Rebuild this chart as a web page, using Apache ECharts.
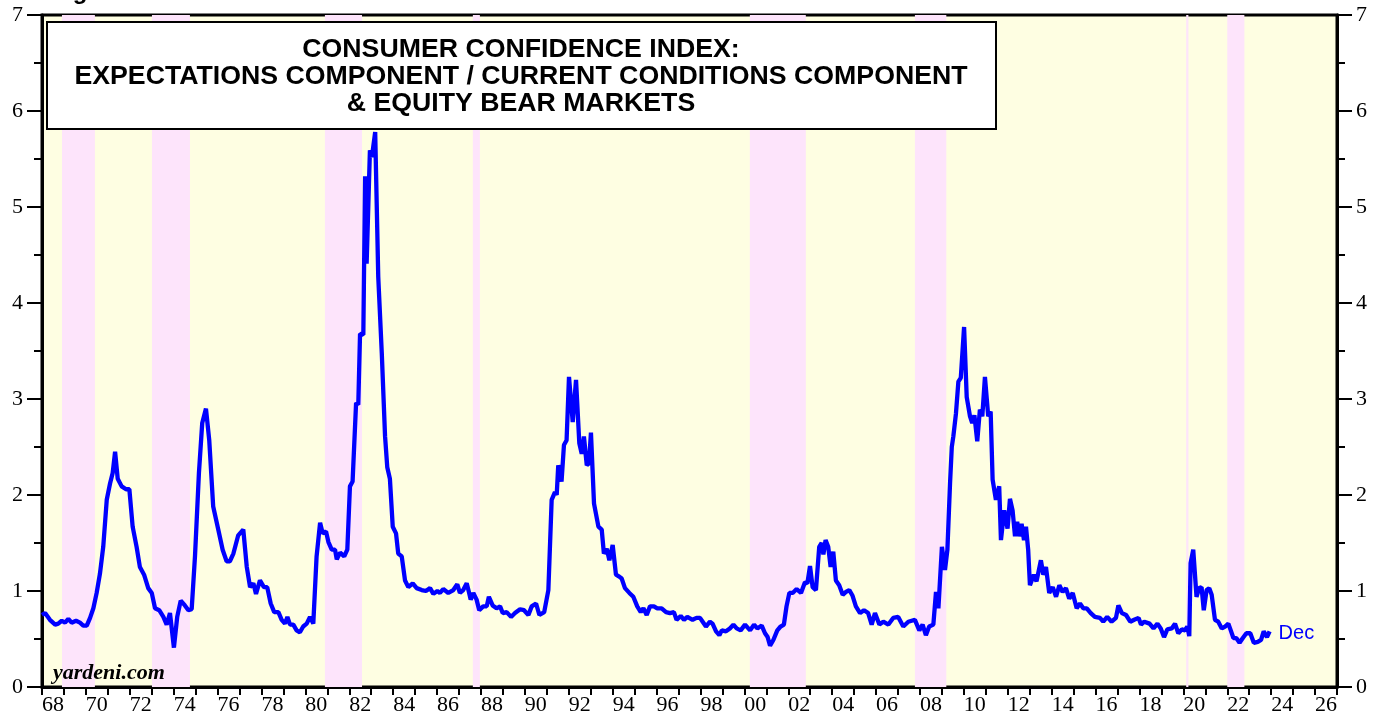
<!DOCTYPE html>
<html><head><meta charset="utf-8">
<script src="https://cdn.jsdelivr.net/npm/echarts/dist/echarts.min.js"></script>
<style>html,body{margin:0;padding:0;background:#fff}#c{width:1384px;height:721px}</style>
</head><body><div id="c"></div>
<script>
// Decimal year of each reading (monthly series, traced)
const years = [
1968.00,1968.14,1968.36,1968.60,1968.74,1968.90,1969.05,1969.20,1969.35,1969.55,1969.73,1969.88,
1970.04,1970.19,1970.34,1970.49,1970.64,1970.79,1970.95,1971.10,1971.22,1971.33,1971.45,1971.63,1971.83,1971.98,
1972.13,1972.31,1972.46,1972.65,1972.84,1973.00,1973.15,1973.34,1973.53,1973.68,1973.83,1974.01,1974.16,1974.32,1974.51,1974.67,1974.82,
1974.97,1975.15,1975.30,1975.47,1975.62,1975.80,1976.03,1976.23,1976.41,1976.56,1976.72,1976.94,1977.17,1977.33,1977.48,1977.63,1977.75,1977.93,
1978.11,1978.26,1978.42,1978.58,1978.77,1978.92,1979.07,1979.18,1979.30,1979.45,1979.60,1979.75,1979.90,
1980.06,1980.21,1980.36,1980.51,1980.67,1980.79,1980.94,1981.05,1981.20,1981.35,1981.43,1981.58,1981.77,1981.91,
1982.03,1982.15,1982.23,1982.31,1982.41,1982.49,1982.64,1982.72,1982.79,1982.87,1982.94,1983.03,1983.18,1983.32,1983.48,1983.63,1983.73,1983.85,1983.98,
1984.13,1984.23,1984.39,1984.54,1984.69,1984.89,1985.07,1985.30,1985.49,1985.68,1985.83,1986.01,1986.13,1986.28,1986.51,1986.74,1986.92,
1987.04,1987.19,1987.35,1987.45,1987.53,1987.65,1987.80,1987.92,1988.10,1988.26,1988.36,1988.53,1988.71,1988.87,1988.99,
1989.17,1989.37,1989.55,1989.78,1989.96,1990.16,1990.31,1990.51,1990.66,1990.88,
1991.07,1991.22,1991.37,1991.45,1991.52,1991.67,1991.78,1991.90,1992.01,1992.18,1992.33,1992.48,1992.59,1992.69,1992.82,1992.92,
1993.01,1993.15,1993.35,1993.50,1993.60,1993.73,1993.85,1994.00,1994.15,1994.30,1994.41,1994.56,1994.76,1994.94,
1995.12,1995.28,1995.40,1995.55,1995.70,1995.88,1996.03,1996.23,1996.43,1996.61,1996.79,1996.91,
1997.10,1997.25,1997.40,1997.64,1997.82,1997.98,1998.10,1998.25,1998.43,1998.55,1998.71,1998.86,1998.97,
1999.16,1999.34,1999.50,1999.65,1999.83,2000.03,2000.26,2000.44,2000.59,2000.79,2000.94,
2001.06,2001.17,2001.32,2001.50,2001.65,2001.80,2001.92,2002.05,2002.20,2002.38,2002.58,2002.76,2002.87,2002.99,
2003.11,2003.26,2003.41,2003.52,2003.60,2003.70,2003.82,2003.93,2004.05,2004.17,2004.32,2004.48,2004.63,2004.78,2004.93,
2005.08,2005.27,2005.45,2005.64,2005.80,2005.95,2006.15,2006.33,2006.56,2006.78,2007.01,2007.24,2007.47,2007.77,2007.97,
2008.12,2008.27,2008.42,2008.61,2008.73,2008.84,2009.00,2009.14,2009.25,2009.37,2009.45,2009.52,2009.64,2009.75,2009.86,
2010.01,2010.13,2010.28,2010.38,2010.48,2010.61,2010.73,2010.84,2010.96,2011.11,2011.22,2011.31,2011.46,2011.61,2011.69,2011.84,2011.99,
2012.10,2012.22,2012.33,2012.43,2012.52,2012.63,2012.74,2012.83,2012.93,2013.01,2013.19,2013.31,2013.51,2013.62,2013.74,2013.89,
2014.05,2014.20,2014.35,2014.50,2014.65,2014.80,2014.96,2015.14,2015.29,2015.44,2015.60,2015.78,2015.97,
2016.20,2016.35,2016.53,2016.73,2016.93,2017.04,2017.20,2017.39,2017.58,2017.76,2017.96,
2018.07,2018.22,2018.46,2018.64,2018.82,2018.97,2019.12,2019.27,2019.47,2019.62,2019.77,2019.93,
2020.08,2020.18,2020.27,2020.33,2020.45,2020.60,2020.72,2020.83,2020.93,2021.06,2021.18,2021.29,2021.44,2021.59,2021.75,2021.90,
2022.05,2022.16,2022.28,2022.41,2022.56,2022.71,2022.87,2023.05,2023.21,2023.39,2023.54,2023.66,2023.81,2023.93
];
// Expectations / Current Conditions ratio at those dates
const ratio = [
0.75,0.77,0.70,0.65,0.66,0.69,0.67,0.71,0.67,0.69,0.67,0.64,
0.64,0.72,0.82,0.98,1.18,1.46,1.95,2.12,2.23,2.45,2.17,2.09,2.06,2.06,
1.67,1.46,1.25,1.17,1.03,0.98,0.82,0.80,0.73,0.65,0.77,0.41,0.73,0.90,0.85,0.80,0.81,
1.36,2.23,2.75,2.90,2.57,1.88,1.64,1.43,1.31,1.31,1.39,1.58,1.64,1.25,1.04,1.08,0.97,1.11,
1.04,1.04,0.87,0.78,0.78,0.70,0.66,0.73,0.65,0.65,0.59,0.57,0.63,
0.66,0.73,0.66,1.36,1.71,1.60,1.62,1.51,1.43,1.43,1.33,1.40,1.36,1.43,
2.09,2.14,2.12,2.96,2.94,3.68,3.67,5.32,4.41,4.41,5.59,5.52,5.78,4.27,3.48,2.61,2.29,2.17,1.67,
1.60,1.39,1.36,1.11,1.04,1.08,1.03,1.01,1.00,1.03,0.97,1.00,0.98,1.02,0.98,1.01,1.07,
0.98,1.01,1.08,0.99,0.91,0.98,0.91,0.80,0.84,0.84,0.94,0.85,0.82,0.84,0.77,
0.78,0.73,0.77,0.81,0.80,0.75,0.84,0.87,0.75,0.78,
1.01,1.95,2.03,2.00,2.31,2.14,2.52,2.57,3.23,2.76,3.20,2.54,2.43,2.61,2.31,2.33,
2.65,1.91,1.67,1.64,1.39,1.44,1.32,1.48,1.17,1.15,1.13,1.03,0.98,0.94,
0.84,0.78,0.82,0.75,0.84,0.84,0.82,0.82,0.78,0.77,0.78,0.70,
0.74,0.70,0.73,0.70,0.72,0.72,0.68,0.63,0.68,0.66,0.58,0.54,0.59,
0.58,0.61,0.65,0.61,0.59,0.65,0.59,0.65,0.61,0.64,0.56,
0.52,0.43,0.49,0.59,0.63,0.65,0.84,0.98,0.98,1.02,0.98,1.09,1.08,1.26,
1.04,1.01,1.46,1.50,1.38,1.53,1.46,1.25,1.41,1.11,1.06,0.96,0.99,1.01,0.95,
0.84,0.77,0.80,0.77,0.65,0.77,0.65,0.68,0.65,0.72,0.73,0.63,0.68,0.70,0.59,
0.65,0.54,0.63,0.65,0.99,0.82,1.46,1.22,1.43,2.12,2.50,2.61,2.85,3.18,3.22,
3.75,3.02,2.82,2.75,2.83,2.56,2.89,2.82,3.23,2.82,2.87,2.16,1.95,2.09,1.53,1.84,1.65,
1.96,1.84,1.57,1.72,1.57,1.70,1.53,1.67,1.43,1.06,1.17,1.10,1.32,1.17,1.25,0.98,
1.04,0.94,1.06,0.99,1.03,0.92,0.98,0.82,0.87,0.82,0.82,0.77,0.73,
0.72,0.68,0.73,0.68,0.72,0.85,0.77,0.75,0.68,0.70,0.72,
0.65,0.68,0.66,0.61,0.66,0.61,0.52,0.60,0.61,0.66,0.56,0.60,
0.59,0.63,0.53,1.29,1.43,0.94,1.03,1.04,0.80,1.01,1.03,0.96,0.70,0.68,0.61,0.63,
0.66,0.59,0.51,0.51,0.46,0.51,0.56,0.56,0.46,0.47,0.49,0.58,0.52,0.58
];
// Equity bear markets (decimal years)
const bearStart = [1968.91, 1973.01, 1980.89, 1987.63, 2000.25, 2007.77, 2020.13, 2022.00];
const bearEnd   = [1970.41, 1974.74, 1982.58, 1987.95, 2002.80, 2009.20, 2020.23, 2022.78];
// Year bands shown on the x axis (1968 .. 2026)
const yearLabels = ['68','69','70','71','72','73','74','75','76','77','78','79','80','81','82','83','84','85','86','87','88','89',
'90','91','92','93','94','95','96','97','98','99','00','01','02','03','04','05','06','07','08','09','10','11','12','13','14','15',
'16','17','18','19','20','21','22','23','24','25','26'];
const titleLines = ['CONSUMER CONFIDENCE INDEX:', 'EXPECTATIONS COMPONENT / CURRENT CONDITIONS COMPONENT', '& EQUITY BEAR MARKETS'];
const lastLabel = 'Dec';

const seriesData = years.map((y, i) => [y, ratio[i]]);
const bands = bearStart.map((s, i) => [{ xAxis: s }, { xAxis: bearEnd[i] }]);

const chart = echarts.init(document.getElementById('c'), null, { renderer: 'canvas' });
const yAxisCommon = {
  type: 'value', min: 0, max: 7, interval: 1,
  axisLine: { show: true, lineStyle: { color: '#000', width: 3 } },
  axisTick: { show: true, inside: false, length: 15, lineStyle: { color: '#000', width: 2 } },
  minorTick: { show: true, splitNumber: 2, length: 8, lineStyle: { color: '#000', width: 2 } },
  splitLine: { show: false }, minorSplitLine: { show: false },
  axisLabel: { fontFamily: 'Liberation Serif', fontSize: 22, color: '#000', margin: 19 }
};
chart.setOption({
  animation: false,
  backgroundColor: '#fff',
  grid: { left: 42, right: 47, top: 15, bottom: 34, show: true, backgroundColor: '#fefee2', borderColor: '#000', borderWidth: 3 },
  xAxis: [
    { type: 'value', min: 1968, max: 2027, show: false },
    { type: 'category', data: yearLabels, boundaryGap: true, position: 'bottom',
      axisLine: { show: true, lineStyle: { color: '#000', width: 3 } },
      axisTick: { show: true, interval: 0, alignWithLabel: false, length: 8, lineStyle: { color: '#000', width: 2 } },
      axisLabel: { interval: (i) => i % 2 === 0, fontFamily: 'Liberation Serif', fontSize: 22, color: '#000', margin: 7 },
      splitLine: { show: false } }
  ],
  yAxis: [
    Object.assign({ position: 'left' }, yAxisCommon),
    Object.assign({ position: 'right' }, yAxisCommon)
  ],
  series: [{
    type: 'line', xAxisIndex: 0, yAxisIndex: 0, data: seriesData,
    showSymbol: false, symbol: 'none', z: 5,
    lineStyle: { color: '#0000ff', width: 4.3 },
    endLabel: { show: true, formatter: lastLabel, color: '#0000ff', fontSize: 20, fontFamily: 'Liberation Sans', distance: 9, offset: [0, 2] },
    markArea: { silent: true, itemStyle: { color: '#fde4fb' }, data: bands }
  }],
  graphic: [
    { type: 'rect', shape: { x: 47, y: 22, width: 949, height: 107 }, style: { fill: '#fff', stroke: '#000', lineWidth: 2 }, z: 10 },
    { type: 'text', x: 521, y: 36, z: 11, style: { text: titleLines.join('\n'), align: 'center', verticalAlign: 'top',
      font: 'bold 26.7px "Liberation Sans"', lineHeight: 27, fill: '#000' } },
    { type: 'text', x: 53, y: 662, z: 11, style: { text: 'yardeni.com', font: 'italic bold 22px "Liberation Serif"', fill: '#000', verticalAlign: 'top' } },
    { type: 'text', x: 80, y: -20, z: 11, style: { text: 'g', font: 'bold 24px "Liberation Sans"', fill: '#000', verticalAlign: 'top', align: 'center' } }
  ]
});
</script>
</body></html>
